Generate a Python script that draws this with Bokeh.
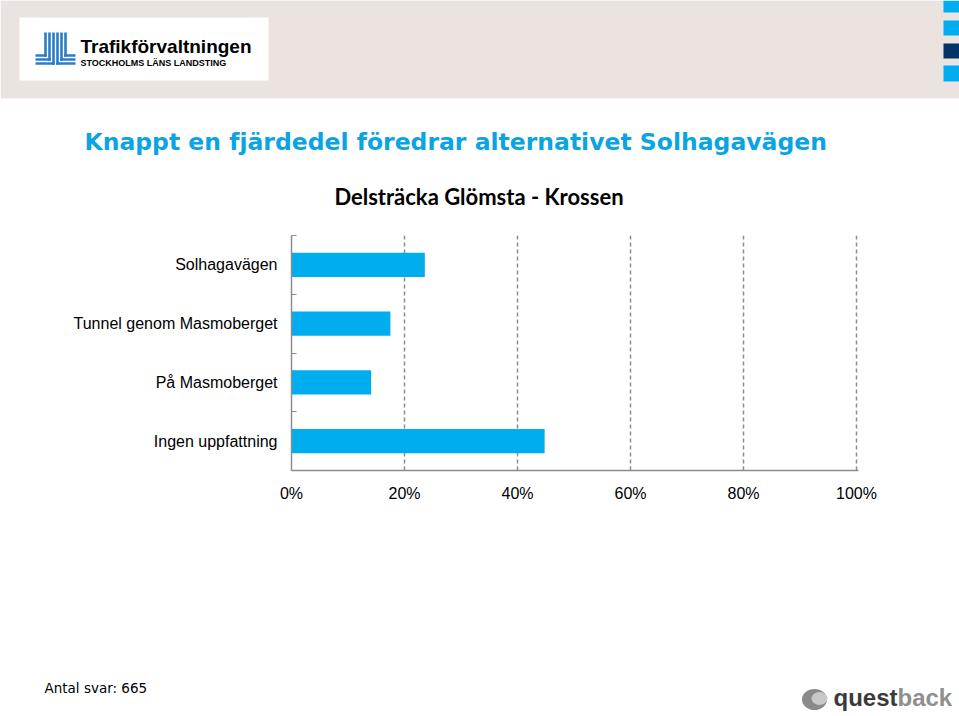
from bokeh.plotting import figure
from bokeh.layouts import column
from bokeh.models import FixedTicker, Range1d
from bokeh.core.properties import value
from bokeh.embed import file_html
from bokeh.resources import INLINE

# ---------------- data ----------------
categories = ["Solhagavägen", "Tunnel genom Masmoberget", "På Masmoberget", "Ingen uppfattning"]
shares = [23.6, 17.5, 14.1, 44.8]
x_ticks = [0, 20, 40, 60, 80, 100]
x_tick_labels = ["0%", "20%", "40%", "60%", "80%", "100%"]
title_text = "Knappt en fjärdedel föredrar alternativet Solhagavägen"
subtitle_text = "Delsträcka Glömsta - Krossen"
footer_text = "Antal svar: 665"

W = 959
TOP_H, CHART_H, FOOT_H = 222, 298, 196   # page bands: 0-222, 222-520, 520-716


def no_align(f):
    try:
        f.frame_align = False
    except Exception:
        pass


def deco_fig(y0, h):
    """Figure whose frame fills the canvas; data units = page pixels."""
    f = figure(width=W, height=h, output_backend="svg", toolbar_location=None,
               x_range=Range1d(0, W), y_range=Range1d(y0 + h, y0),
               x_axis_type=None, y_axis_type=None,
               min_border=0, min_border_left=0, min_border_right=0,
               min_border_top=0, min_border_bottom=0)
    no_align(f)
    f.outline_line_color = None
    f.background_fill_color = "white"
    f.border_fill_color = "white"
    f.xgrid.grid_line_color = None
    f.ygrid.grid_line_color = None
    return f


def txt(f, X, Y, s, font, size, color="black", style="normal", align="left"):
    f.text(x=[X], y=[Y], text=[s], text_font=value(font), text_font_size=value(size),
           text_color=color, text_font_style=style, text_align=align,
           text_baseline="middle")


# ---------------- top band ----------------
top = deco_fig(0, TOP_H)
top.quad(left=[0], right=[W], top=[0], bottom=[98], fill_color="#EAE3DF", line_color=None)
top.quad(left=[943] * 4, right=[W] * 4, top=[0, 20, 43, 65], bottom=[12, 35, 58, 81],
         fill_color=["#00AEEF", "#00AEEF", "#003366", "#00AEEF"], line_color=None)
top.quad(left=[19], right=[268], top=[17], bottom=[80], fill_color="white", line_color=None)
LOGO = "#2A7DC6"
sw = 2.6
L, R, T, B = [], [], [], []
for i in range(3):
    xv = 45 + 4 * i
    yh = 55 + 4 * i
    xv2 = 65 - 4 * i
    L += [xv - sw / 2, 35, xv2 - sw / 2, xv2 - sw / 2]
    R += [xv + sw / 2, xv + sw / 2, xv2 + sw / 2, 75]
    T += [32, yh - sw / 2, 32, yh - sw / 2]
    B += [yh + sw / 2, yh + sw / 2, yh + sw / 2, yh + sw / 2]
top.quad(left=L, right=R, top=T, bottom=B, fill_color=LOGO, line_color=None)
txt(top, 80, 46, "Trafikförvaltningen", "Liberation Sans", "19px", style="bold")
txt(top, 80, 62, "STOCKHOLMS LÄNS LANDSTING", "Liberation Sans", "9px", style="bold")
txt(top, 84, 141, title_text, "DejaVu Sans", "23.5px", color="#0AA4E2", style="bold")
txt(top, 478.5, 196, subtitle_text, "Lato", "22px", style="bold", align="center")

# ---------------- chart ----------------
FL, FR, FT, FB = 291, 858, 235, 470
n = len(categories)
ys = [n - i - 0.5 for i in range(n)]

p = figure(width=W, height=CHART_H, output_backend="svg", toolbar_location=None,
           x_range=Range1d(0, 100.35), y_range=Range1d(0, n),
           min_border_left=FL, min_border_right=W - FR,
           min_border_top=FT - TOP_H, min_border_bottom=TOP_H + CHART_H - FB)
no_align(p)
p.background_fill_color = "white"
p.border_fill_color = "white"
p.outline_line_color = None

p.hbar(y=ys, left=0, right=shares, height=0.41, fill_color="#00AEEF", line_color=None)

AX = "#8c8c8c"
xa = p.xaxis[0]
xa.ticker = FixedTicker(ticks=x_ticks)
xa.major_label_overrides = {t: l for t, l in zip(x_ticks, x_tick_labels)}
xa.major_label_text_font = "Liberation Sans"
xa.major_label_text_font_size = "16px"
xa.major_label_text_color = "black"
xa.major_label_standoff = 14
xa.axis_line_color = AX
xa.axis_line_width = 1.5
xa.major_tick_in = 4
xa.major_tick_out = 0
xa.major_tick_line_color = AX
xa.minor_tick_line_color = None

ya = p.yaxis[0]
ya.ticker = FixedTicker(ticks=ys, minor_ticks=list(range(n + 1)))
ya.major_label_overrides = {y: c for y, c in zip(ys, categories)}
ya.major_label_text_font = "Liberation Sans"
ya.major_label_text_font_size = "16px"
ya.major_label_text_color = "black"
ya.major_label_standoff = 14
ya.major_tick_in = 0
ya.major_tick_out = 0
ya.minor_tick_in = 5
ya.minor_tick_out = 0
ya.minor_tick_line_color = AX
ya.minor_tick_line_width = 1.2
ya.axis_line_color = AX
ya.axis_line_width = 1.5

p.xgrid.ticker = FixedTicker(ticks=x_ticks[1:])
p.xgrid.grid_line_color = AX
p.xgrid.grid_line_dash = "4 3"
p.xgrid.grid_line_width = 1.5
p.ygrid.grid_line_color = None

# ---------------- footer ----------------
foot = deco_fig(TOP_H + CHART_H, FOOT_H)
txt(foot, 44, 687, footer_text, "DejaVu Sans", "13.5px")
foot.ellipse(x=[814], y=[699], width=[25], height=[21], fill_color="#8a8a8a", line_color=None)
foot.ellipse(x=[819], y=[698], width=[16], height=[13], fill_color="#c8c8c8", line_color=None)
txt(foot, 833, 697, "quest", "Liberation Sans", "24px", color="#3a3a3a", style="bold")
txt(foot, 897, 697, "back", "Liberation Sans", "24px", color="#8f8f8f", style="bold")

layout = column(top, p, foot, spacing=0)
open("out.html", "w").write(file_html(layout, INLINE))
